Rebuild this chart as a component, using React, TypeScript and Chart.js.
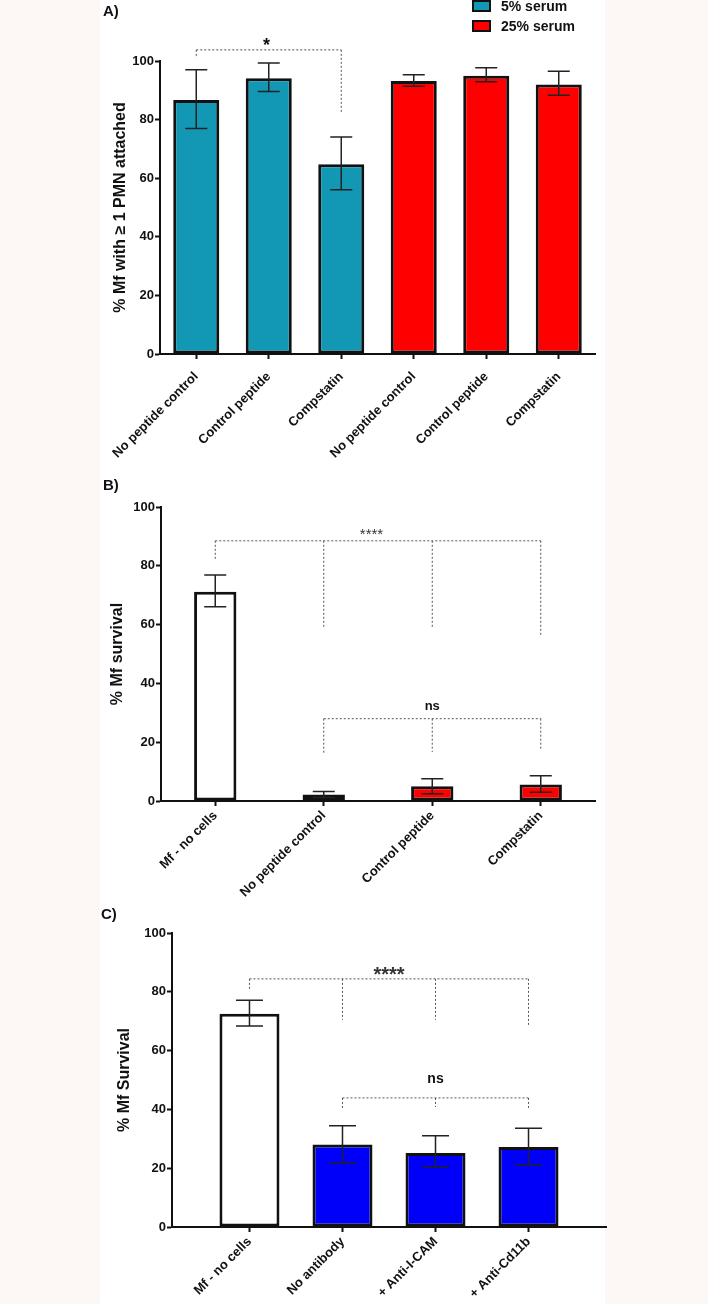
import React, { useEffect, useRef } from 'react';
import { Chart, registerables } from 'chart.js';

Chart.register(...registerables);

const FONT = "'Liberation Sans', Arial, Helvetica, sans-serif";
Chart.defaults.font.family = FONT;
Chart.defaults.color = '#111';

// ---------- Panel A data ----------
const labelsA = ['No peptide control', 'Control peptide', 'Compstatin', 'No peptide control', 'Control peptide', 'Compstatin'];
const serum5 = [86.7, 94.1, 64.8, null, null, null];
const serum5High = [97.0, 99.3, 74.1, null, null, null];
const serum5Low = [77.0, 89.6, 56.1, null, null, null];
const serum25 = [null, null, null, 93.2, 95.0, 92.0];
const serum25High = [null, null, null, 95.3, 97.7, 96.5];
const serum25Low = [null, null, null, 91.4, 92.9, 88.3];

// ---------- Panel B data ----------
const labelsB = ['Mf - no cells', 'No peptide control', 'Control peptide', 'Compstatin'];
const survivalB = [71.2, 2.2, 5.0, 5.6];
const survivalBHigh = [76.9, 3.2, 7.6, 8.6];
const survivalBLow = [66.1, 1.2, 2.5, 3.0];

// ---------- Panel C data ----------
const labelsC = ['Mf - no cells', 'No antibody', '+ Anti-I-CAM', '+ Anti-Cd11b'];
const survivalC = [72.5, 28.1, 25.2, 27.2];
const survivalCHigh = [77.1, 34.4, 31.0, 33.6];
const survivalCLow = [68.4, 21.8, 20.4, 21.1];

// ---------- significance brackets (category index / data units) ----------
const bracketsA = [
  { cats: [0, 2], ends: [101.0, 82.3], y: 103.8, text: '*', textAt: 0.97, textY: 103.4 },
];
const bracketsB = [
  { cats: [0, 1, 2, 3], ends: [82.3, 58.7, 58.7, 56.0], y: 88.5, text: '****', textAt: 1.44, textY: 89.1 },
  { cats: [1, 2, 3], ends: [16.4, 16.7, 17.4], y: 28.0, text: 'ns', textAt: 2, textY: 30.9 },
];
const bracketsC = [
  { cats: [0, 1, 2, 3], ends: [81.0, 70.5, 70.5, 68.1], y: 84.4, text: '****', textAt: 1.5, textY: 83.6 },
  { cats: [1, 2, 3], ends: [40.5, 40.8, 40.5], y: 43.9, text: 'ns', textAt: 2, textY: 49.1 },
];

const TEAL = '#1297b4';
const RED = '#ff0000';
const BLUE = '#0000fa';
const WHITE = '#ffffff';
const INK = '#111111';

// ---------- plugins ----------
const errorBarsPlugin = {
  id: 'errorBars',
  afterDatasetsDraw(chart: any, _args: any, opts: any) {
    const ctx = chart.ctx;
    const y = chart.scales.y;
    ctx.save();
    ctx.strokeStyle = opts.color || '#222';
    ctx.lineWidth = opts.lineWidth || 1.5;
    chart.data.datasets.forEach((ds: any, i: number) => {
      const meta = chart.getDatasetMeta(i);
      meta.data.forEach((el: any, j: number) => {
        const hi = ds.errHigh?.[j];
        const lo = ds.errLow?.[j];
        if (hi == null || lo == null) return;
        const x = el.x;
        const yh = y.getPixelForValue(hi);
        const yl = y.getPixelForValue(lo);
        const w = (opts.capWidth || 22) / 2;
        ctx.beginPath();
        ctx.moveTo(x, yh);
        ctx.lineTo(x, yl);
        ctx.moveTo(x - w, yh);
        ctx.lineTo(x + w, yh);
        ctx.moveTo(x - w, yl);
        ctx.lineTo(x + w, yl);
        ctx.stroke();
      });
    });
    ctx.restore();
  },
};

const bracketsPlugin = {
  id: 'brackets',
  afterDraw(chart: any, _args: any, opts: any) {
    const ctx = chart.ctx;
    const xs = chart.scales.x;
    const ys = chart.scales.y;
    ctx.save();
    (opts.items || []).forEach((b: any, k: number) => {
      const style = (opts.styles || [])[k] || {};
      const yLine = ys.getPixelForValue(b.y);
      const px = b.cats.map((c: number) => xs.getPixelForValue(c));
      ctx.strokeStyle = '#555';
      ctx.lineWidth = 1;
      ctx.setLineDash([2, 2]);
      ctx.beginPath();
      ctx.moveTo(px[0], yLine);
      ctx.lineTo(px[px.length - 1], yLine);
      px.forEach((x: number, i: number) => {
        ctx.moveTo(x, yLine);
        ctx.lineTo(x, ys.getPixelForValue(b.ends[i]));
      });
      ctx.stroke();
      ctx.setLineDash([]);
      ctx.fillStyle = style.color || INK;
      ctx.font = style.font || `bold 14px ${FONT}`;
      ctx.textAlign = 'center';
      ctx.textBaseline = 'alphabetic';
      ctx.fillText(b.text, xs.getPixelForValue(b.textAt), ys.getPixelForValue(b.textY));
    });
    ctx.restore();
  },
};

const panelTextPlugin = {
  id: 'panelText',
  afterDraw(chart: any, _args: any, opts: any) {
    const ctx = chart.ctx;
    ctx.save();
    ctx.fillStyle = INK;
    ctx.font = `bold 15px ${FONT}`;
    ctx.textAlign = 'left';
    ctx.textBaseline = 'middle';
    ctx.fillText(opts.label, opts.x, opts.y);
    if (opts.legend) {
      const lg = opts.legend;
      chart.data.datasets.forEach((ds: any, i: number) => {
        const cy = lg.y + i * lg.rowGap;
        ctx.fillStyle = ds.backgroundColor;
        ctx.fillRect(lg.x, cy - 5, 17, 10);
        ctx.strokeStyle = INK;
        ctx.lineWidth = 2;
        ctx.strokeRect(lg.x, cy - 5, 17, 10);
        ctx.fillStyle = INK;
        ctx.font = `bold 14px ${FONT}`;
        ctx.fillText(ds.label, lg.x + 28, cy + 1);
      });
    }
    ctx.restore();
  },
};

// ---------- shared scale styling ----------
const axisGrid = {
  display: true,
  offset: false,
  drawOnChartArea: false,
  drawTicks: true,
  tickLength: 5,
  tickColor: INK,
  tickWidth: 2,
};
const axisBorder = { display: true, color: INK, width: 2 };
const tickFont = { size: 13, weight: 'bold' as const, family: FONT };

function yScale(title: string, width: number, titlePad: number, titleBold = true) {
  return {
    min: 0,
    max: 100,
    ticks: { stepSize: 20, font: tickFont, color: INK, padding: 1 },
    grid: axisGrid,
    border: axisBorder,
    title: {
      display: true,
      text: title,
      color: INK,
      font: { size: 16, weight: titleBold ? 'bold' : 'normal', family: FONT },
      padding: { top: titlePad, bottom: 0 },
    },
    afterFit: (s: any) => {
      s.width = width;
    },
  };
}

function xCatScale(height: number, pad = 2) {
  return {
    grid: axisGrid,
    border: axisBorder,
    ticks: { font: tickFont, color: INK, minRotation: 45, maxRotation: 45, padding: pad, autoSkip: false },
    afterFit: (s: any) => {
      s.height = height;
    },
  };
}

const barStyle = {
  borderColor: INK,
  borderWidth: 3,
  borderSkipped: false,
  grouped: false,
  categoryPercentage: 1,
};

function configA(): any {
  return {
    type: 'bar',
    data: {
      labels: labelsA,
      datasets: [
        { label: '5% serum', data: serum5, errHigh: serum5High, errLow: serum5Low, backgroundColor: TEAL, barPercentage: 0.635, ...barStyle },
        { label: '25% serum', data: serum25, errHigh: serum25High, errLow: serum25Low, backgroundColor: RED, barPercentage: 0.635, ...barStyle },
      ],
    },
    options: {
      responsive: false,
      animation: false,
      devicePixelRatio: 1,
      layout: { padding: { left: 0, top: 61, right: 10, bottom: 0 } },
      plugins: {
        legend: { display: false },
        tooltip: { enabled: false },
        errorBars: { capWidth: 22, lineWidth: 1.5, color: '#222' },
        brackets: { items: bracketsA, styles: [{ font: `bold 18px ${FONT}` }] },
        panelText: { label: 'A)', x: 3, y: 12, legend: { x: 373, y: 6, rowGap: 20 } },
      },
      scales: {
        x: xCatScale(126, 10),
        y: yScale('% Mf with \u2265 1 PMN attached', 60, 11),
      },
    },
    plugins: [errorBarsPlugin, bracketsPlugin, panelTextPlugin],
  };
}

function configB(): any {
  return {
    type: 'bar',
    data: {
      labels: labelsB,
      datasets: [
        {
          label: '% Mf survival',
          data: survivalB,
          errHigh: survivalBHigh,
          errLow: survivalBLow,
          backgroundColor: (c: any) => (c.dataIndex === 0 ? WHITE : RED),
          barPercentage: 0.39,
          ...barStyle,
        },
      ],
    },
    options: {
      responsive: false,
      animation: false,
      devicePixelRatio: 1,
      layout: { padding: { left: 0, top: 37, right: 10, bottom: 0 } },
      plugins: {
        legend: { display: false },
        tooltip: { enabled: false },
        errorBars: { capWidth: 22, lineWidth: 1.5, color: '#222' },
        brackets: {
          items: bracketsB,
          styles: [{ font: `normal 15px ${FONT}`, color: '#333' }, { font: `bold 13px ${FONT}` }],
        },
        panelText: { label: 'B)', x: 3, y: 16 },
      },
      scales: {
        x: xCatScale(99),
        y: yScale('% Mf survival', 61, 8),
      },
    },
    plugins: [errorBarsPlugin, bracketsPlugin, panelTextPlugin],
  };
}

function configC(): any {
  return {
    type: 'bar',
    data: {
      datasets: [
        {
          label: '% Mf Survival',
          data: survivalC.map((v, i) => ({ x: i, y: v })),
          errHigh: survivalCHigh,
          errLow: survivalCLow,
          backgroundColor: (c: any) => (c.dataIndex === 0 ? WHITE : BLUE),
          barPercentage: 0.645,
          ...barStyle,
        },
      ],
    },
    options: {
      responsive: false,
      animation: false,
      devicePixelRatio: 1,
      layout: { padding: { left: 0, top: 33, right: 4, bottom: 0 } },
      plugins: {
        legend: { display: false },
        tooltip: { enabled: false },
        errorBars: { capWidth: 27, lineWidth: 1.5, color: '#222' },
        brackets: {
          items: bracketsC,
          styles: [{ font: `bold 20px ${FONT}`, color: '#333' }, { font: `bold 14px ${FONT}` }],
        },
        panelText: { label: 'C)', x: 1, y: 15 },
      },
      scales: {
        x: {
          type: 'linear',
          offset: false,
          min: -0.833,
          max: labelsC.length - 1 + 0.833,
          grid: axisGrid,
          border: axisBorder,
          afterBuildTicks: (s: any) => {
            s.ticks = labelsC.map((_, i) => ({ value: i }));
          },
          ticks: {
            font: tickFont,
            color: INK,
            minRotation: 45,
            maxRotation: 45,
            padding: 2,
            autoSkip: false,
            callback: (v: any) => labelsC[v] ?? '',
          },
          afterFit: (s: any) => {
            s.height = 77;
          },
        },
        y: yScale('% Mf Survival', 72, 15),
      },
    },
    plugins: [errorBarsPlugin, bracketsPlugin, panelTextPlugin],
  };
}

function ChartCanvas({ make, left, top, width, height }: { make: () => any; left: number; top: number; width: number; height: number }) {
  const ref = useRef<HTMLCanvasElement | null>(null);
  useEffect(() => {
    if (!ref.current) return;
    const chart = new Chart(ref.current, make());
    return () => chart.destroy();
  }, [make]);
  return (
    <canvas
      ref={ref}
      width={width}
      height={height}
      style={{ position: 'absolute', left, top, width, height }}
    />
  );
}

export default function App() {
  return (
    <div style={{ position: 'absolute', left: 0, top: 0, width: 708, height: 1304, background: '#fdf8f6', overflow: 'hidden' }}>
      <div style={{ position: 'absolute', left: 100, top: 0, width: 505, height: 1304, background: '#ffffff' }} />
      <ChartCanvas make={configA} left={100} top={0} width={505} height={480} />
      <ChartCanvas make={configB} left={100} top={470} width={505} height={430} />
      <ChartCanvas make={configC} left={100} top={900} width={510} height={404} />
    </div>
  );
}
